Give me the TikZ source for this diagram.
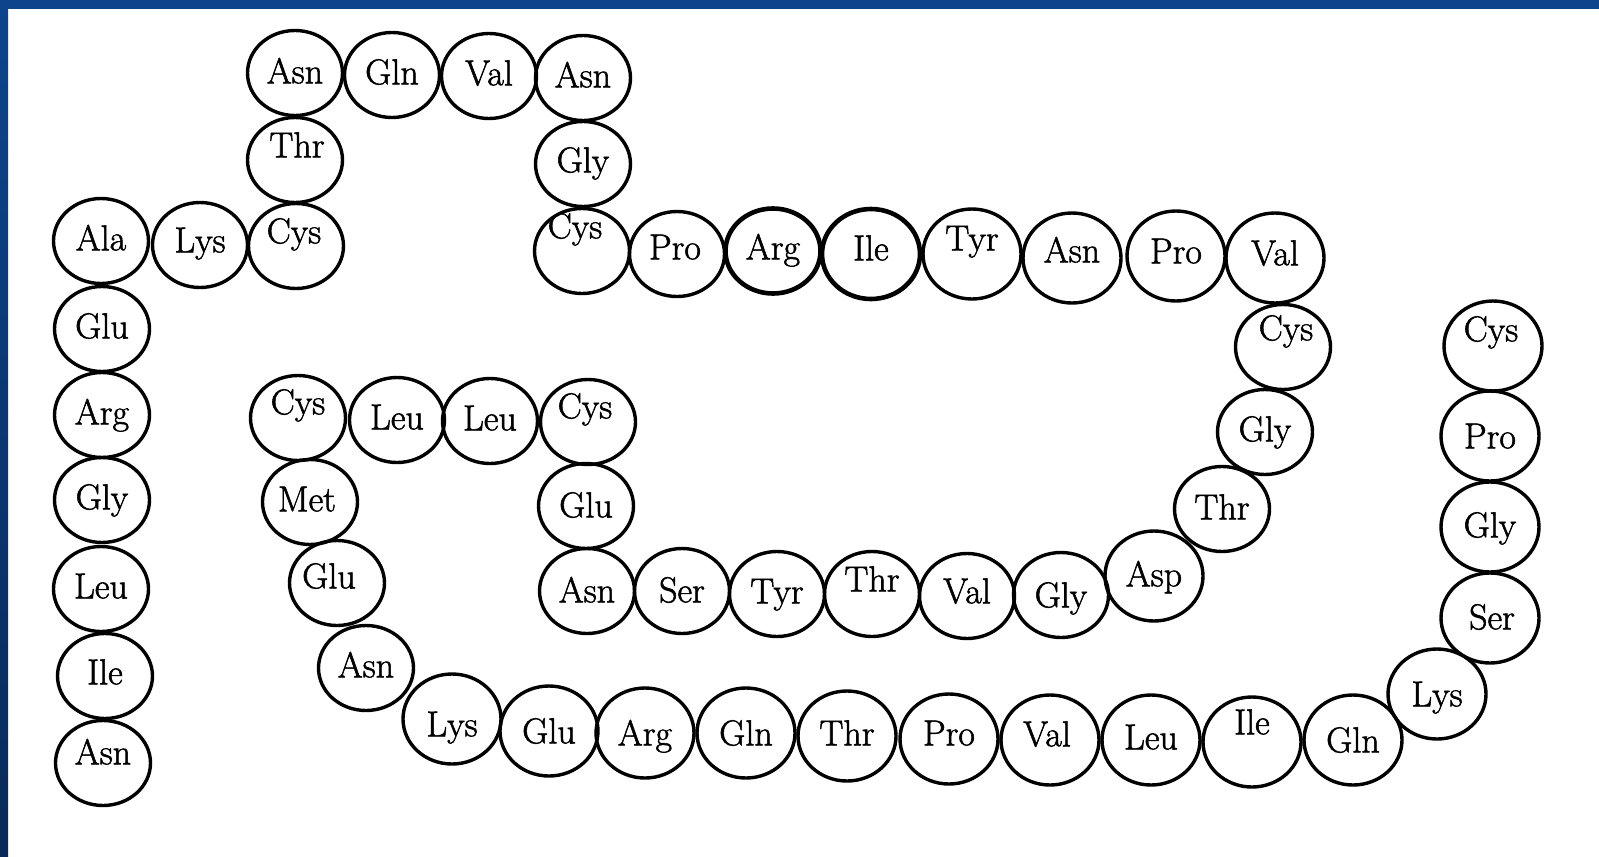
\documentclass[tikz,border=0pt]{standalone}
\usepackage{fontspec}
\usetikzlibrary{shapes.geometric}
\definecolor{bandblue}{RGB}{14,68,140}
\definecolor{banddark}{RGB}{8,42,88}
\newfontfamily\resfont{Latin Modern Roman}[FakeBold=1.5]
\newcommand\lift[3]{\makebox[0pt]{\kern#1pt\kern#1pt\raisebox{\dimexpr#2pt-12.3pt\relax}{#3}}}
\begin{document}
\begin{tikzpicture}[x=1pt,y=-1pt,
  res/.style={ellipse,draw,line width=3.4pt,minimum width=95pt,minimum height=85pt,
    inner sep=0pt,text height=0pt,text depth=0pt,font=\resfont\fontsize{36}{40}\selectfont},
  big/.style={minimum width=98pt,minimum height=90pt},
  heavy/.style={line width=4.6pt}]
\useasboundingbox (0,0) rectangle (1599,857);
\fill[white] (0,0) rectangle (1599,857);
\shade[top color=bandblue,bottom color=banddark] (0,0) rectangle (8,857);
\fill[bandblue] (0,0) rectangle (1599,9);

% left vertical strand
\node[res] (l6) at (103,763) {\lift{0}{11}{Asn}};
\node[res] (l5) at (105,676) {\lift{0}{4}{Ile}};
\node[res] (l4) at (101,589) {\lift{0}{3}{Leu}};
\node[res] (l3) at (102,500) {\lift{0}{3}{Gly}};
\node[res] (l2) at (102,415) {\lift{0}{3}{Arg}};
\node[res] (l1) at (102,329) {\lift{0}{3}{Glu}};

% upper loop
\node[res] (a1) at (101,241) {\lift{0}{3}{Ala}};
\node[res] (a2) at (200,245) {\lift{0}{5}{Lys}};
\node[res] (a3) at (296,246) {\lift{-2}{15}{Cys}};
\node[res] (a4) at (295,160) {\lift{2}{15}{Thr}};
\node[res] (a5) at (295,73) {\lift{0}{2}{Asn}};
\node[res] (a6) at (392,75) {\lift{0}{3}{Gln}};
\node[res] (a7) at (489,76) {\lift{0}{3}{Val}};
\node[res] (a8) at (583,78) {\lift{0}{3}{Asn}};
\node[res] (a9) at (583,164) {\lift{0}{4}{Gly}};
\node[res] (a10) at (582,251) {\lift{-7}{25}{Cys}};
\node[res] (a11) at (677,254) {\lift{-2}{7}{Pro}};
\node[res,heavy] (a12) at (773,251) {\lift{0}{4}{Arg}};
\node[res,heavy,big] (a13) at (871,254) {\lift{0}{6}{Ile}};
\node[res,big] (a14) at (972,254) {\lift{0}{16}{Tyr}};
\node[res,big] (a15) at (1072,258) {\lift{0}{8}{Asn}};
\node[res,big] (a16) at (1176,256) {\lift{0}{5}{Pro}};
\node[res,big] (a17) at (1275,258) {\lift{0}{5}{Val}};
\node[res] (a18) at (1283,347) {\lift{3}{19}{Cys}};
\node[res] (a19) at (1265,432) {\lift{0}{3}{Gly}};
\node[res] (a20) at (1222,509) {\lift{0}{2}{Thr}};
\node[res,big] (a21) at (1154,576) {\lift{0}{2}{Asp}};
\node[res] (a22) at (1061,595) {\lift{0}{0}{Gly}};
\node[res] (a23) at (967,596) {\lift{0}{5}{Val}};
\node[res] (a24) at (872,594) {\lift{0}{15}{Thr}};
\node[res] (a25) at (777,594) {\lift{0}{3}{Tyr}};
\node[res] (a26) at (682,591) {\lift{0}{1}{Ser}};
\node[res] (a27) at (587,591) {\lift{0}{1}{Asn}};
\node[res] (a28) at (586,506) {\lift{0}{1}{Glu}};
\node[res] (a29) at (588,422) {\lift{-3}{16}{Cys}};

% lower strand
\node[res] (b1) at (298,418) {\lift{0}{16}{Cys}};
\node[res] (b2) at (397,420) {\lift{0}{3}{Leu}};
\node[res] (b3) at (490,421) {\lift{0}{3}{Leu}};
\node[res] (b4) at (310,502) {\lift{-3}{3}{Met}};
\node[res] (b5) at (337,583) {\lift{-8}{7}{Glu}};
\node[res] (b6) at (366,668) {\lift{0}{3}{Asn}};
\node[res,big] (b7) at (452,719) {\lift{0}{-5}{Lys}};
\node[res,big] (b8) at (549,731) {\lift{0}{0}{Glu}};
\node[res,big] (b9) at (645,733) {\lift{0}{0}{Arg}};
\node[res,big] (b10) at (746,733) {\lift{0}{0}{Gln}};
\node[res,big] (b11) at (847,736) {\lift{0}{3}{Thr}};
\node[res,big] (b12) at (949,739) {\lift{0}{6}{Pro}};
\node[res,big] (b13) at (1050,740) {\lift{-3}{6}{Val}};
\node[res,big] (b14) at (1151,740) {\lift{0}{3}{Leu}};
\node[res,big] (b15) at (1252,742) {\lift{0}{20}{Ile}};
\node[res,big] (b16) at (1353,740) {\lift{0}{0}{Gln}};
\node[res,big] (b17) at (1437,694) {\lift{0}{0}{Lys}};
\node[res,big] (b18) at (1490,618) {\lift{2}{1}{Ser}};
\node[res,big] (b19) at (1490,527) {\lift{0}{2}{Gly}};
\node[res,big] (b20) at (1490,436) {\lift{0}{0}{Pro}};
\node[res,big] (b21) at (1493,346) {\lift{-2}{17}{Cys}};
\end{tikzpicture}
\end{document}
